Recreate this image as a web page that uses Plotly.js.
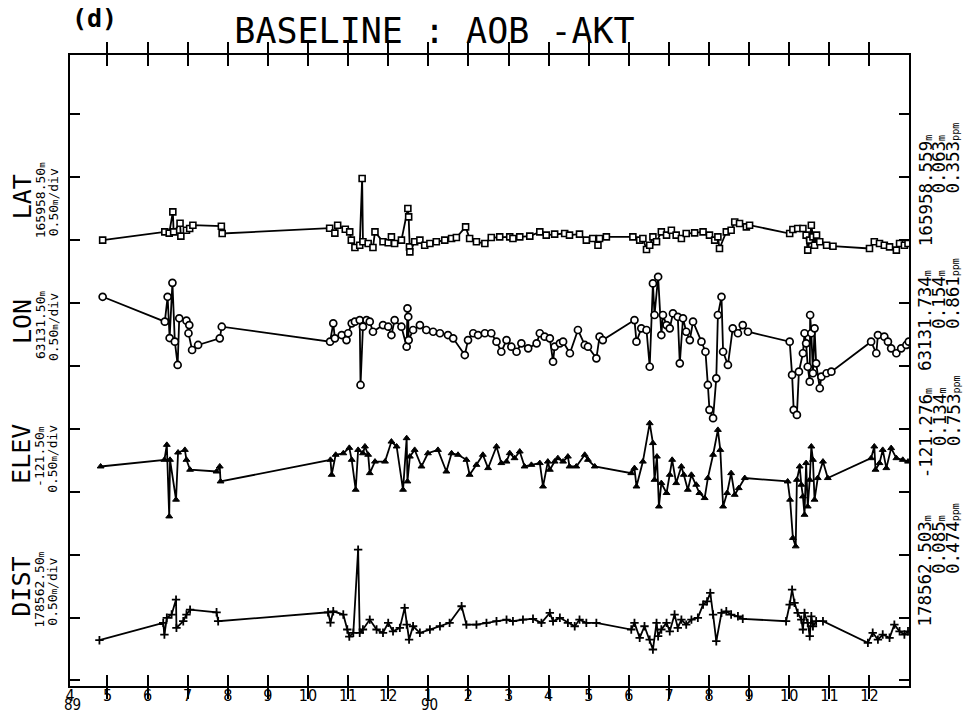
<!DOCTYPE html>
<html>
<head>
<meta charset="utf-8">
<script src="https://cdn.plot.ly/plotly-3.0.1.min.js"></script>
<style>
  html, body { margin: 0; padding: 0; background: #ffffff; }
  #chart { width: 963px; height: 714px; }
</style>
</head>
<body>
<div id="chart"></div>
<script>
// Time axis: fractional month index counted from Jan 1989 (5 = May 1989, 13 = Jan 1990, 24 = Dec 1990)
// Values: metres relative to the reference value printed at the left of each panel.

// LAT (reference 165958.50 m)
const latMonth = [4.88,6.43,6.54,6.63,6.65,6.81,6.83,6.97,7.05,7.13,7.84,7.86,10.54,10.67,10.74,10.93,11.04,11.08,11.17,11.29,11.35,11.37,11.50,11.62,11.67,11.87,12.00,12.08,12.16,12.33,12.49,12.51,12.53,12.54,12.66,12.79,12.91,13.04,13.20,13.41,13.58,13.70,13.93,14.03,14.20,14.41,14.57,14.78,15.03,15.11,15.28,15.53,15.78,15.94,16.15,16.40,16.52,16.77,16.94,17.10,17.23,17.27,17.44,18.10,18.27,18.35,18.44,18.52,18.60,18.69,18.81,18.94,19.06,19.18,19.31,19.43,19.64,19.85,20.01,20.14,20.22,20.26,20.43,20.55,20.64,20.76,20.93,21.01,22.01,22.09,22.21,22.34,22.42,22.46,22.51,22.55,22.59,22.63,22.68,22.76,22.93,23.09,24.00,24.12,24.25,24.37,24.50,24.67,24.75,24.87,24.96];
const latVal = [0,0.066,0.056,0.225,0.066,0.135,0.032,0.079,0.093,0.119,0.111,0.053,0.095,0.056,0.119,0.087,0.066,0,-0.058,-0.040,0.490,-0.013,-0.026,-0.058,0.066,-0.013,-0.021,0.026,-0.026,0,0.252,0.185,-0.053,-0.093,-0.013,0,-0.040,-0.026,-0.013,0,0.013,0.021,0.106,0.013,-0.013,-0.026,0.021,0.026,0.026,0.013,0.026,0.032,0.066,0.040,0.048,0.053,0.040,0.048,0,0.013,-0.040,0.013,0.026,0.026,0,0.013,-0.074,-0.040,0.026,-0.013,0.066,0.040,0.079,0.040,0.013,0.053,0.058,0.066,0.040,0,0.026,-0.066,0.066,0.079,0.145,0.133,0.106,0.119,0.053,0.085,0.093,0.093,0.040,-0.079,0,0.119,0.026,-0.040,0.040,-0.013,-0.040,-0.048,-0.066,-0.013,-0.026,-0.040,-0.053,-0.079,-0.026,-0.040,-0.026];

// LON (reference 63131.50 m)
const lonMonth = [4.88,6.43,6.50,6.55,6.62,6.68,6.75,6.79,6.97,7.04,7.02,7.11,7.26,7.80,7.85,10.55,10.63,10.67,10.84,10.96,11.00,11.09,11.17,11.29,11.31,11.37,11.46,11.54,11.62,11.87,12.00,12.08,12.16,12.33,12.46,12.48,12.50,12.51,12.62,12.79,12.95,13.12,13.29,13.49,13.62,13.91,13.99,14.12,14.24,14.41,14.57,14.70,14.82,14.95,15.07,15.20,15.32,15.49,15.70,15.78,15.90,16.03,16.11,16.15,16.28,16.36,16.53,16.73,16.90,16.98,17.19,17.27,17.35,18.14,18.19,18.31,18.44,18.52,18.60,18.64,18.73,18.81,18.85,18.94,19.02,19.10,19.22,19.27,19.35,19.43,19.52,19.60,19.81,19.91,19.97,20.01,20.10,20.18,20.22,20.31,20.35,20.47,20.59,20.72,20.84,20.97,22.01,22.07,22.11,22.19,22.24,22.34,22.38,22.42,22.46,22.51,22.52,22.55,22.59,22.63,22.67,22.76,22.80,22.93,23.05,24.04,24.17,24.21,24.37,24.46,24.54,24.67,24.79,24.92,24.98];
const lonVal = [0.550,0.352,0.550,0.222,0.661,0.193,0.008,0.379,0.360,0.325,0.260,0.127,0.167,0.220,0.312,0.193,0.339,0.220,0.246,0.206,0.260,0.339,0.352,0.365,-0.151,0.312,0.365,0.352,0.272,0.325,0.312,0.246,0.365,0.312,0.153,0.458,0.391,0.206,0.286,0.325,0.286,0.272,0.260,0.246,0.220,0.087,0.206,0.260,0.246,0.260,0.260,0.193,0.113,0.206,0.153,0.113,0.180,0.140,0.180,0.260,0.233,0.220,0.034,0.153,0.180,0.193,0.101,0.286,0.167,0.153,0.061,0.233,0.206,0.365,0.193,0.299,0.286,-0.006,0.656,0.405,0.709,0.246,0.405,0.325,0.299,0.418,0.391,0.021,0.379,0.272,0.206,0.352,0.193,0.113,-0.151,-0.349,-0.415,-0.098,0.405,0.550,0.113,0.008,0.299,0.260,0.325,0.272,0.193,-0.071,-0.349,-0.389,-0.045,0.101,0.260,0.180,-0.006,-0.125,0.405,0.260,-0.058,0.299,0.021,-0.177,-0.085,-0.058,-0.045,0.193,0.101,0.246,0.233,0.193,0.140,0.101,0.140,0.167,0.193];

// ELEV (reference -121.50 m)
const elevMonth = [4.83,6.42,6.48,6.54,6.56,6.71,6.76,6.93,6.97,7.06,7.72,7.80,7.82,10.56,10.59,10.69,10.88,11.03,11.09,11.19,11.25,11.37,11.42,11.50,11.54,11.67,11.92,12.08,12.21,12.37,12.46,12.48,12.54,12.66,12.83,12.99,13.24,13.45,13.58,13.74,13.95,14.03,14.20,14.36,14.49,14.70,14.82,14.95,15.03,15.15,15.28,15.40,15.57,15.78,15.86,15.98,16.03,16.15,16.23,16.36,16.48,16.52,16.69,16.90,16.98,17.15,18.06,18.14,18.19,18.35,18.52,18.60,18.64,18.70,18.75,18.81,18.94,19.02,19.08,19.18,19.31,19.37,19.47,19.56,19.68,19.76,19.89,19.97,20.10,20.22,20.28,20.35,20.45,20.55,20.64,20.74,20.89,21.96,22.02,22.09,22.16,22.19,22.26,22.30,22.34,22.38,22.42,22.46,22.51,22.55,22.59,22.63,22.71,22.84,22.96,24.04,24.12,24.15,24.25,24.33,24.42,24.54,24.67,24.83,24.96];
const elevVal = [0.201,0.254,0.373,-0.196,0.254,-0.063,0.312,0.333,0.254,0.175,0.161,0.201,0.082,0.254,0.135,0.294,0.306,0.349,0.254,0.016,0.333,0.306,0.360,0.294,0.148,0.240,0.240,0.399,0.360,0.016,0.426,0.082,0.280,0.333,0.201,0.306,0.333,0.161,0.306,0.294,0.254,0.135,0.214,0.294,0.188,0.360,0.228,0.240,0.307,0.267,0.320,0.201,0.214,0.228,0.042,0.240,0.175,0.240,0.267,0.240,0.280,0.201,0.201,0.294,0.254,0.201,0.148,0.188,0.042,0.240,0.545,0.387,0.095,0.280,-0.117,0.069,-0.010,0.135,0.254,0.069,0.201,0.135,0.016,0.135,0.056,-0.010,-0.050,0.109,0.294,0.492,0.333,-0.117,-0.010,0.148,-0.024,0.029,0.109,0.082,-0.063,-0.367,-0.434,0.095,0.201,0.056,-0.037,-0.183,0.228,-0.117,0.095,0.360,0.254,-0.063,0.109,0.240,0.109,0.267,0.360,0.175,0.228,0.333,0.188,0.347,0.267,0.254,0.240];

// DIST (reference 178562.50 m)
const distMonth = [4.80,6.39,6.42,6.48,6.60,6.71,6.72,6.89,6.97,7.06,7.72,7.76,10.50,10.56,10.63,10.88,10.98,11.03,11.13,11.25,11.29,11.37,11.54,11.71,11.87,12.00,12.12,12.29,12.41,12.46,12.52,12.62,12.79,13.04,13.29,13.53,13.83,13.95,14.20,14.45,14.70,14.95,15.11,15.36,15.61,15.82,16.03,16.11,16.28,16.48,16.65,16.77,16.94,17.19,18.06,18.14,18.27,18.39,18.52,18.60,18.69,18.73,18.81,18.94,19.02,19.14,19.22,19.31,19.43,19.56,19.72,19.85,19.95,20.03,20.10,20.18,20.31,20.43,20.55,20.72,20.84,21.92,22.01,22.07,22.13,22.21,22.30,22.34,22.38,22.46,22.51,22.55,22.59,22.67,22.84,23.96,24.08,24.21,24.33,24.50,24.62,24.75,24.87,24.96];
const distVal = [-0.180,-0.042,-0.135,-0.002,0.024,0.143,-0.082,-0.029,0.024,0.063,0.042,-0.029,0.042,-0.040,0.050,0.024,-0.095,-0.151,-0.121,0.540,-0.121,-0.095,-0.016,-0.095,-0.121,-0.042,-0.109,-0.082,0.077,-0.056,-0.175,-0.069,-0.121,-0.095,-0.069,-0.042,0.090,-0.056,-0.056,-0.042,-0.029,-0.016,-0.029,-0.016,-0.010,-0.042,0.037,-0.029,-0.002,-0.042,-0.069,-0.016,-0.042,-0.042,-0.095,-0.042,-0.161,-0.069,-0.175,-0.254,-0.042,-0.148,-0.095,-0.042,-0.109,0.024,-0.082,-0.016,-0.056,-0.016,-0.002,0.103,0.129,0.196,0.024,-0.188,0.037,0.050,0.024,0.010,-0.010,-0.029,0.103,0.222,0.117,0.037,-0.016,-0.095,0.037,-0.042,-0.148,0.010,-0.069,-0.029,-0.029,-0.201,-0.121,-0.175,-0.135,-0.161,-0.056,-0.109,-0.135,-0.109];

// Tick labels
const monthTicks = [4.066,5,6,7,8,9,10,11,12,13,14,15,16,17,18,19,20,21,22,23,24];
const monthLabels = ['4','5','6','7','8','9','10','11','12','1','2','3','4','5','6','7','8','9','10','11','12'];
const yearLabels = ['89','90'];
const panelNames = ['LAT','LON','ELEV','DIST'];
const panelRefs = ['165958.50','63131.50','-121.50','178562.50'];
const panelScale = '0.50';
const panelMeans = ['165958.559','63131.734','-121.276','178562.503'];
const panelSigmas = ['0.063','0.154','0.134','0.085'];
const panelPpm = ['0.353','0.861','0.753','0.474'];
const titleText = 'BASELINE : AOB -AKT';
const figLabel = '(d)';

// ---------- layout helpers (pixel placement of the frame) ----------
const W = 963, H = 714;
const L = 70, R = 909.5, T = 54.5, B = 686.5;
const xp = px => (px - L) / (R - L);
const yp = py => (B - py) / (B - T);
const MONO = 'DejaVu Sans Mono, monospace';
const NUM = 'Liberation Sans Narrow, DejaVu Sans Condensed, Liberation Sans, sans-serif';
const baseRange = [-3.544, 1.472];

const lineStyle = {color: '#000', width: 1.8};
const traces = [
  {x: latMonth, y: latVal, yaxis: 'y', mode: 'lines+markers', line: lineStyle,
   marker: {symbol: 'square', size: 6, color: '#fff', line: {color: '#000', width: 1.6}}},
  {x: lonMonth, y: lonVal, yaxis: 'y2', mode: 'lines+markers', line: lineStyle,
   marker: {symbol: 'circle', size: 7, color: '#fff', line: {color: '#000', width: 1.7}}},
  {x: elevMonth, y: elevVal, yaxis: 'y3', mode: 'lines+markers', line: lineStyle,
   marker: {symbol: 'triangle-up', size: 6, color: '#000', line: {color: '#000', width: 1}}},
  {x: distMonth, y: distVal, yaxis: 'y4', mode: 'lines+markers', line: lineStyle,
   marker: {symbol: 'cross-thin-open', size: 6, color: '#000', line: {color: '#000', width: 1.8}}}
];

const ann = [];
// figure label
ann.push({xref: 'paper', yref: 'paper', x: xp(95), y: yp(18), xanchor: 'center', yanchor: 'middle',
  showarrow: false, text: '<b>' + figLabel + '</b>', font: {family: MONO, size: 25, color: '#000'}});
// year labels
ann.push({xref: 'paper', yref: 'paper', x: xp(73), y: yp(705.5), xanchor: 'center', yanchor: 'middle',
  showarrow: false, text: yearLabels[0], borderpad: 0, font: {family: NUM, size: 15, color: '#000'}});
ann.push({xref: 'paper', yref: 'paper', x: xp(430), y: yp(705.5), xanchor: 'center', yanchor: 'middle',
  showarrow: false, text: yearLabels[1], borderpad: 0, font: {family: NUM, size: 15, color: '#000'}});

// left panel labels
const leftCenters = [200, 325, 457, 590];
const small = s => '<span style="font-size:9px">' + s + '</span>';
panelNames.forEach((nm, i) => {
  const cy = leftCenters[i];
  ann.push({xref: 'paper', yref: 'paper', x: xp(22), y: yp(cy - 3), xanchor: 'center', yanchor: 'middle',
    textangle: -90, showarrow: false, text: nm, font: {family: MONO, size: 25, color: '#000'}});
  ann.push({xref: 'paper', yref: 'paper', x: xp(40), y: yp(cy), xanchor: 'center', yanchor: 'middle',
    textangle: -90, showarrow: false, text: panelRefs[i] + small('m'), font: {family: MONO, size: 13, color: '#000'}});
  ann.push({xref: 'paper', yref: 'paper', x: xp(53), y: yp(cy + 2), xanchor: 'center', yanchor: 'middle',
    textangle: -90, showarrow: false, text: panelScale + small('m') + '/div', font: {family: MONO, size: 13, color: '#000'}});
});

// right statistics labels (decimal points aligned)
const rightStarts = [248, 373, 480, 629];
const RS = 17.5;
const adv = RS * 0.602;
const smallR = s => '<span style="font-size:10px">' + s + '</span>';
panelMeans.forEach((mv, i) => {
  const s0 = rightStarts[i];
  const dot = mv.indexOf('.');
  const dotC = s0 - (dot + 0.5) * adv;
  const s1 = dotC + 1.5 * adv;
  ann.push({xref: 'paper', yref: 'paper', x: xp(926), y: yp(s0), xanchor: 'center', yanchor: 'bottom',
    textangle: -90, showarrow: false, text: mv + smallR('m'), font: {family: MONO, size: RS, color: '#000'}});
  ann.push({xref: 'paper', yref: 'paper', x: xp(940), y: yp(s1), xanchor: 'center', yanchor: 'bottom',
    textangle: -90, showarrow: false, text: panelSigmas[i] + smallR('m'), font: {family: MONO, size: RS, color: '#000'}});
  ann.push({xref: 'paper', yref: 'paper', x: xp(954), y: yp(s1), xanchor: 'center', yanchor: 'bottom',
    textangle: -90, showarrow: false, text: panelPpm[i] + smallR('ppm'), font: {family: MONO, size: RS, color: '#000'}});
});

const hiddenY = (k) => ({overlaying: 'y', range: [baseRange[0] + k, baseRange[1] + k], visible: false, fixedrange: true});

const layout = {
  width: W, height: H,
  paper_bgcolor: '#fff', plot_bgcolor: '#fff',
  showlegend: false,
  margin: {l: L, r: W - R, t: T, b: H - B, pad: 0},
  title: {text: titleText, x: 434.5 / W, xref: 'container', xanchor: 'center',
          y: 1 - 31 / H, yref: 'container', yanchor: 'middle',
          font: {family: MONO, size: 35, color: '#000'}},
  xaxis: {range: [4.066, 24.985], showgrid: false, zeroline: false,
          showline: true, linecolor: '#000', linewidth: 2, mirror: 'allticks',
          ticks: 'inside', ticklen: 11, tickwidth: 2, tickcolor: '#000',
          tickmode: 'array', tickvals: monthTicks, ticktext: monthLabels,
          ticklabelstandoff: -6,
          tickfont: {family: NUM, size: 16, color: '#000'}},
  yaxis: {range: baseRange, showgrid: false, zeroline: false,
          showline: true, linecolor: '#000', linewidth: 2, mirror: 'allticks',
          ticks: 'inside', ticklen: 10, tickwidth: 2, tickcolor: '#000',
          tick0: 0, dtick: 0.5, showticklabels: false},
  yaxis2: hiddenY(1),
  yaxis3: hiddenY(2),
  yaxis4: hiddenY(3),
  annotations: ann
};

Plotly.newPlot('chart', traces, layout, {displayModeBar: false, staticPlot: true});
</script>
</body>
</html>
